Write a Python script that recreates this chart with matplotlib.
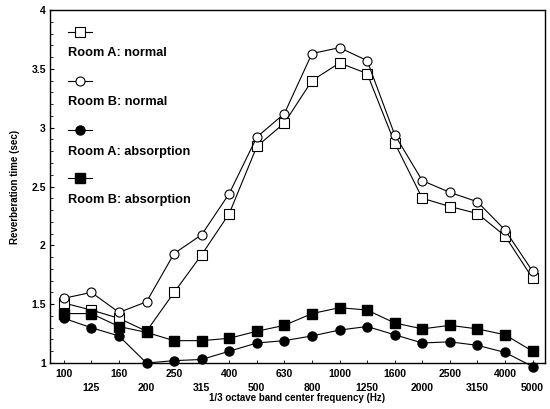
import matplotlib
matplotlib.use("Agg")
import matplotlib.pyplot as plt
from matplotlib.ticker import MultipleLocator

freqs = ["100", "125", "160", "200", "250", "315", "400", "500", "630", "800",
         "1000", "1250", "1600", "2000", "2500", "3150", "4000", "5000"]
room_a_normal = [1.51, 1.45, 1.38, 1.27, 1.60, 1.92, 2.27, 2.84, 3.04, 3.40,
                 3.55, 3.46, 2.87, 2.40, 2.33, 2.27, 2.08, 1.72]
room_b_normal = [1.55, 1.60, 1.43, 1.52, 1.93, 2.09, 2.44, 2.92, 3.12, 3.63,
                 3.68, 3.57, 2.94, 2.55, 2.45, 2.37, 2.13, 1.78]
room_a_absorp = [1.38, 1.30, 1.23, 1.00, 1.02, 1.03, 1.10, 1.17, 1.19, 1.23,
                 1.28, 1.31, 1.24, 1.17, 1.18, 1.15, 1.09, 0.97]
room_b_absorp = [1.42, 1.42, 1.31, 1.26, 1.19, 1.19, 1.21, 1.27, 1.32, 1.42,
                 1.47, 1.45, 1.34, 1.29, 1.32, 1.29, 1.24, 1.10]
labels = ["Room A: normal", "Room B: normal", "Room A: absorption", "Room B: absorption"]

plt.rcParams['font.family'] = ['Liberation Sans', 'DejaVu Sans']
plt.rcParams['font.weight'] = 'bold'

fig = plt.figure(figsize=(5.5, 4.09), dpi=100)
ax = fig.add_axes([50/550, 1 - 363/409, 495/550, 353/409])

x = list(range(len(freqs)))
styles = [
    (room_a_normal, dict(marker='s', mfc='white', mec='black', ms=6.5, mew=0.8)),
    (room_b_normal, dict(marker='o', mfc='white', mec='black', ms=6.5, mew=0.8)),
    (room_a_absorp, dict(marker='o', mfc='black', mec='black', ms=6.5)),
    (room_b_absorp, dict(marker='s', mfc='black', mec='black', ms=6.5)),
]
for vals, st in styles:
    ax.plot(x, vals, color='black', lw=0.8, clip_on=False, zorder=3, **st)

ax.set_xlim(-0.5, 17.45)
ax.set_ylim(1, 4)
ax.yaxis.set_minor_locator(MultipleLocator(0.1))
ax.set_yticks([1, 1.5, 2, 2.5, 3, 3.5, 4])
ax.set_yticklabels(["1", "1.5", "2", "2.5", "3", "3.5", "4"], fontsize=7.5, fontweight='bold')
ax.tick_params(axis='y', which='major', direction='in', length=3, width=0.8, pad=3)
ax.tick_params(axis='y', which='minor', direction='in', length=2, width=0.6)
ax.set_xticks(x)
ax.set_xticklabels([f if i % 2 == 0 else "\n" + f for i, f in enumerate(freqs)],
                   fontsize=7.5, fontweight='bold', linespacing=1.5)
ax.tick_params(axis='x', direction='in', length=2, width=0.6, pad=4)
for s in ax.spines.values():
    s.set_linewidth(1.0)

ax.set_xlabel("1/3 octave band center frequency (Hz)", fontsize=7, fontweight='bold', labelpad=0)
ax.set_ylabel("Reverberation time (sec)", fontsize=7, fontweight='bold', labelpad=8)

# Legend: handle on one row, label on the row below
handle_y = [32, 81, 130, 178]
text_y = [53, 102, 152, 200]
for (vals, st), hy, ty, lab in zip(styles, handle_y, text_y, labels):
    fig.add_artist(plt.Line2D([68/550, 92/550], [1 - hy/409, 1 - hy/409], color='black', lw=0.8))
    fig.add_artist(plt.Line2D([80/550], [1 - hy/409], color='black', lw=0, **st))
    fig.text(68/550, 1 - ty/409, lab, fontsize=9.2, fontweight='bold', va='center', ha='left')

fig.savefig("out.png", dpi=100)
